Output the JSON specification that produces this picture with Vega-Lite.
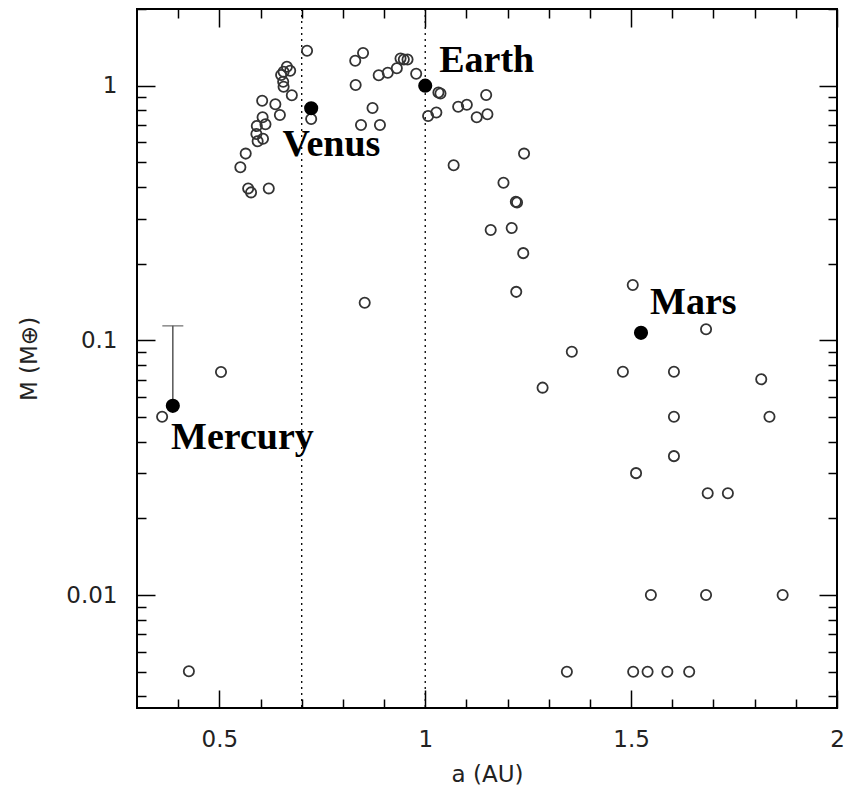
{
  "$schema": "https://vega.github.io/schema/vega-lite/v6.json",
  "width": 700,
  "height": 699,
  "autosize": {"type": "none"},
  "padding": {"left": 137, "top": 9, "right": 7, "bottom": 81},
  "background": "white",
  "config": {
    "view": {"stroke": "black", "strokeWidth": 2},
    "axis": {
      "grid": false, "domain": false, "tickColor": "black", "tickWidth": 1.5,
      "labelFont": "DejaVu Sans", "labelFontSize": 23, "labelColor": "#222",
      "labelOverlap": false, "labelFlush": false,
      "titleFont": "DejaVu Sans", "titleFontSize": 23, "titleFontWeight": "normal", "titleColor": "#222"
    }
  },
  "datasets": {
    "open": [
      {"a":0.604,"M":0.873},{"a":0.636,"M":0.845},{"a":0.647,"M":0.767},{"a":0.676,"M":0.917},{"a":0.650,"M":1.101},
      {"a":0.656,"M":1.135},{"a":0.664,"M":1.187},{"a":0.672,"M":1.145},{"a":0.655,"M":1.036},{"a":0.656,"M":0.991},
      {"a":0.605,"M":0.751},{"a":0.612,"M":0.705},{"a":0.591,"M":0.694},{"a":0.590,"M":0.646},{"a":0.606,"M":0.619},
      {"a":0.593,"M":0.605},{"a":0.564,"M":0.541},{"a":0.551,"M":0.478},{"a":0.570,"M":0.395},{"a":0.577,"M":0.381},
      {"a":0.620,"M":0.395},{"a":0.713,"M":1.372},{"a":0.723,"M":0.740},
      {"a":0.849,"M":1.344},{"a":0.830,"M":1.253},{"a":0.831,"M":1.006},{"a":0.887,"M":1.098},{"a":0.909,"M":1.124},
      {"a":0.931,"M":1.170},{"a":0.940,"M":1.278},{"a":0.948,"M":1.267},{"a":0.957,"M":1.267},{"a":0.978,"M":1.114},
      {"a":0.872,"M":0.817},{"a":0.844,"M":0.701},{"a":0.890,"M":0.701},
      {"a":1.032,"M":0.940},{"a":1.037,"M":0.932},{"a":1.007,"M":0.760},{"a":1.027,"M":0.785},{"a":1.080,"M":0.827},
      {"a":1.101,"M":0.842},{"a":1.125,"M":0.751},{"a":1.151,"M":0.772},{"a":1.148,"M":0.919},{"a":1.069,"M":0.487},
      {"a":1.240,"M":0.541},{"a":1.190,"M":0.416},{"a":1.220,"M":0.350},{"a":1.223,"M":0.348},{"a":1.159,"M":0.271},
      {"a":1.210,"M":0.276},{"a":1.238,"M":0.220},{"a":1.221,"M":0.155},
      {"a":0.853,"M":0.1405},{"a":0.504,"M":0.0751},{"a":0.361,"M":0.0501},{"a":0.426,"M":0.00502},
      {"a":1.504,"M":0.165},{"a":1.682,"M":0.1105},{"a":1.356,"M":0.0902},{"a":1.480,"M":0.0753},{"a":1.604,"M":0.0753},
      {"a":1.285,"M":0.0652},{"a":1.816,"M":0.0703},{"a":1.604,"M":0.0501},{"a":1.836,"M":0.0501},{"a":1.604,"M":0.0351},
      {"a":1.512,"M":0.0301},{"a":1.686,"M":0.0251},{"a":1.735,"M":0.0251},{"a":1.548,"M":0.01},{"a":1.682,"M":0.01},
      {"a":1.868,"M":0.01},{"a":1.344,"M":0.005},{"a":1.505,"M":0.005},{"a":1.540,"M":0.005},{"a":1.588,"M":0.005},
      {"a":1.641,"M":0.005}
    ],
    "planets": [
      {"name":"Mercury","a":0.387,"M":0.0553,"la":0.3826,"lM":0.0375},
      {"name":"Venus","a":0.723,"M":0.815,"la":0.6534,"lM":0.529},
      {"name":"Earth","a":1.0,"M":1.0,"la":1.034,"lM":1.127},
      {"name":"Mars","a":1.524,"M":0.107,"la":1.546,"lM":0.127}
    ],
    "err": [{"a":0.387,"lo":0.0553,"hi":0.114}],
    "lines": [{"a":0.7},{"a":1.0}]
  },
  "layer": [
    {
      "data": {"name": "lines"},
      "mark": {"type": "rule", "strokeDash": [2, 4], "strokeWidth": 1.3, "color": "black"},
      "encoding": {
        "x": {"field": "a", "type": "quantitative", "scale": {"type": "linear", "domain": [0.3, 2.0], "nice": false, "zero": false}, "axis": null}
      }
    },
    {
      "data": {"name": "err"},
      "mark": {"type": "rule", "strokeWidth": 1.5, "color": "#555"},
      "encoding": {
        "x": {"field": "a", "type": "quantitative", "scale": {"type": "linear", "domain": [0.3, 2.0], "nice": false, "zero": false},
              "axis": {"orient": "top", "values": [0.4,0.6,0.7,0.8,0.9,1.1,1.2,1.3,1.4,1.6,1.7,1.8,1.9], "tickSize": -9, "labels": false, "title": null}},
        "y": {"field": "lo", "type": "quantitative", "scale": {"type": "log", "domain": [0.0036, 2], "nice": false},
              "axis": {"orient": "right", "values": [0.004,0.005,0.006,0.007,0.008,0.009,0.02,0.03,0.04,0.05,0.06,0.07,0.08,0.09,0.2,0.3,0.4,0.5,0.6,0.7,0.8,0.9,2], "tickSize": -9, "labels": false, "title": null}},
        "y2": {"field": "hi"}
      }
    },
    {
      "data": {"name": "err"},
      "mark": {"type": "tick", "orient": "horizontal", "size": 21, "thickness": 1.5, "color": "#555"},
      "encoding": {
        "x": {"field": "a", "type": "quantitative", "scale": {"type": "linear", "domain": [0.3, 2.0], "nice": false, "zero": false}, "axis": null},
        "y": {"field": "hi", "type": "quantitative", "scale": {"type": "log", "domain": [0.0036, 2], "nice": false}, "axis": null}
      }
    },
    {
      "data": {"name": "open"},
      "mark": {"type": "point", "shape": "circle", "filled": false, "size": 105, "stroke": "#333", "strokeWidth": 1.8, "opacity": 1},
      "encoding": {
        "x": {"field": "a", "type": "quantitative", "scale": {"type": "linear", "domain": [0.3, 2.0], "nice": false, "zero": false},
              "axis": {"orient": "bottom", "values": [0.5, 1, 1.5, 2], "format": "~g", "tickSize": -18, "labelPadding": 38, "title": "a (AU)", "titlePadding": 12}},
        "y": {"field": "M", "type": "quantitative", "scale": {"type": "log", "domain": [0.0036, 2], "nice": false},
              "axis": {"orient": "left", "values": [0.01, 0.1, 1], "format": "~g", "tickSize": -18, "labelPadding": 38, "title": "M (M⊕)", "titlePadding": 24}}
      }
    },
    {
      "data": {"name": "planets"},
      "mark": {"type": "point", "shape": "circle", "filled": true, "size": 200, "color": "black", "opacity": 1},
      "encoding": {
        "x": {"field": "a", "type": "quantitative", "scale": {"type": "linear", "domain": [0.3, 2.0], "nice": false, "zero": false},
              "axis": {"orient": "bottom", "values": [0.4,0.6,0.7,0.8,0.9,1.1,1.2,1.3,1.4,1.6,1.7,1.8,1.9], "tickSize": -9, "labels": false, "title": null}},
        "y": {"field": "M", "type": "quantitative", "scale": {"type": "log", "domain": [0.0036, 2], "nice": false},
              "axis": {"orient": "left", "values": [0.004,0.005,0.006,0.007,0.008,0.009,0.02,0.03,0.04,0.05,0.06,0.07,0.08,0.09,0.2,0.3,0.4,0.5,0.6,0.7,0.8,0.9,2], "tickSize": -9, "labels": false, "title": null}}
      }
    },
    {
      "data": {"name": "planets"},
      "mark": {"type": "text", "align": "left", "baseline": "alphabetic", "font": "Liberation Serif", "fontWeight": "bold", "fontSize": 38, "color": "black"},
      "encoding": {
        "x": {"field": "la", "type": "quantitative", "scale": {"type": "linear", "domain": [0.3, 2.0], "nice": false, "zero": false},
              "axis": {"orient": "top", "values": [0.5, 1, 1.5, 2], "tickSize": -18, "labels": false, "title": null}},
        "y": {"field": "lM", "type": "quantitative", "scale": {"type": "log", "domain": [0.0036, 2], "nice": false},
              "axis": {"orient": "right", "values": [0.01, 0.1, 1], "tickSize": -18, "labels": false, "title": null}},
        "text": {"field": "name", "type": "nominal"}
      }
    }
  ],
  "resolve": {"scale": {"x": "shared", "y": "shared"}, "axis": {"x": "independent", "y": "independent"}}
}
